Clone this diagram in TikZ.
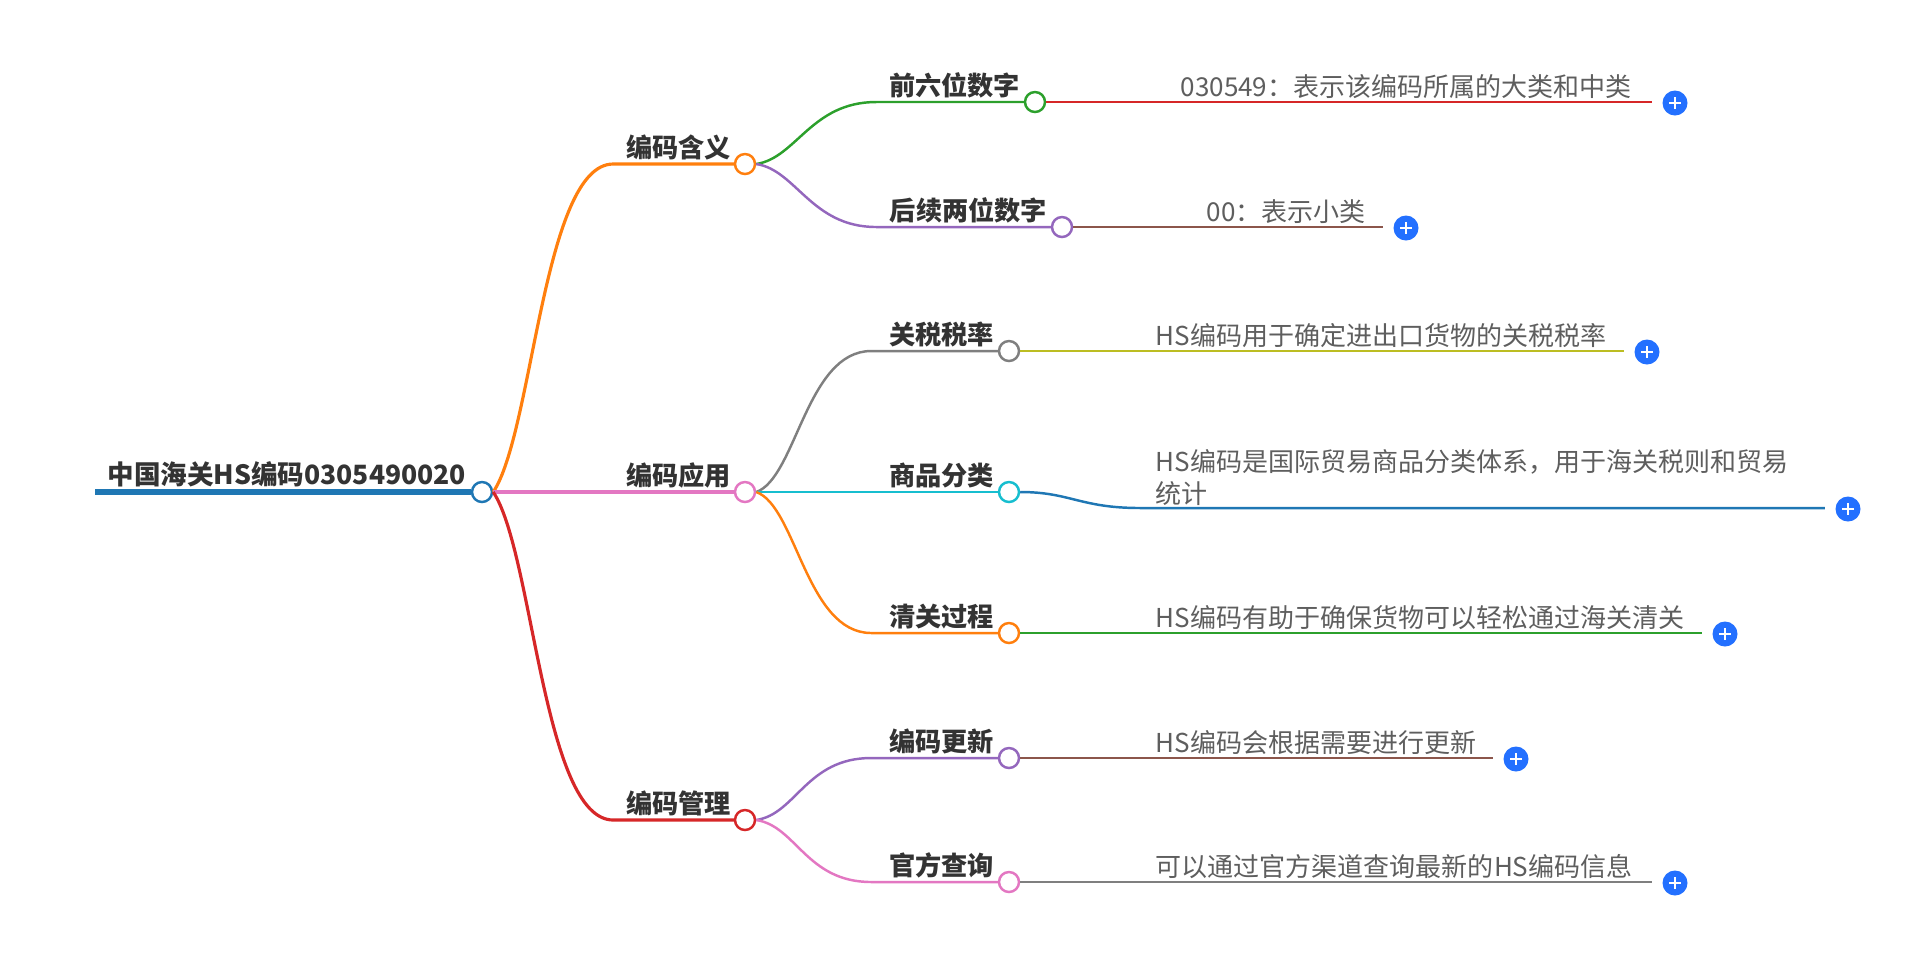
\documentclass[tikz,border=0pt]{standalone}
\usepackage{fontspec}
\setmainfont{Noto Sans CJK SC}
\usetikzlibrary{calc}
\definecolor{mapBlue}{HTML}{1F77B4}
\definecolor{mapOrange}{HTML}{FF7F0E}
\definecolor{mapGreen}{HTML}{2CA02C}
\definecolor{mapRed}{HTML}{D62728}
\definecolor{mapPurple}{HTML}{9467BD}
\definecolor{mapBrown}{HTML}{8C564B}
\definecolor{mapPink}{HTML}{E377C2}
\definecolor{mapGray}{HTML}{7F7F7F}
\definecolor{mapOlive}{HTML}{BCBD22}
\definecolor{mapCyan}{HTML}{17BECF}
\definecolor{plusBlue}{HTML}{2370FF}
\definecolor{labelText}{HTML}{333333}
\definecolor{leafText}{HTML}{5E5E5E}
\newcommand{\labelFont}{\bfseries\fontsize{7.45}{8.5}\selectfont}
\newcommand{\rootFont}{\bfseries\fontsize{7.55}{9}\selectfont}
\newcommand{\leafFont}{\fontsize{7.4}{9.1}\selectfont}

\begin{document}
\begin{tikzpicture}[x=0.01cm, y=-0.01cm,
  knob/.style={circle, draw=#1, fill=white, line width=0.7pt, minimum size=0.2cm, inner sep=0pt},
  topic/.style={anchor=base east, inner sep=0pt, text=labelText, font=\labelFont},
  leaf/.style={anchor=base west, inner sep=0pt, text=leafText, font=\leafFont},
  plusbtn/.style={circle, fill=plusBlue, minimum size=0.25cm, inner sep=0pt,
    path picture={\draw[white, line width=0.75pt]
      ($(path picture bounding box.center)+(-6,0)$) -- ++(12,0)
      ($(path picture bounding box.center)+(0,-6)$) -- ++(0,12);}},
  main/.style={line width=0.9pt},
  sub/.style={line width=0.7pt}]
  \useasboundingbox (0,0) rectangle (1920,953);

  % root
  \node[knob=mapBlue] (root) at (482,492) {};
  \node[topic, font=\rootFont] (rootText) at ($(root.west)+(-4,-8)$) {中国海关HS编码0305490020};
  \coordinate (rootTail) at (95,492);
  \draw[mapBlue, line width=1.7pt] (rootTail) -- (root.west);

  % first level
  \node[knob=mapOrange] (hanyi) at (745,164) {};
  \node[knob=mapPink] (yingyong) at (745,492) {};
  \node[knob=mapRed] (guanli) at (745,820) {};
  \node[topic] (hanyiText) at ($(hanyi.west)+(-2,-7)$) {编码含义};
  \node[topic] (yingyongText) at ($(yingyong.west)+(-2,-7)$) {编码应用};
  \node[topic] (guanliText) at ($(guanli.west)+(-2,-7)$) {编码管理};

  \draw[main, mapOrange] (root.east) .. controls +(40,-60) and +(-70,0) .. ($(root.east)+(120,-328)$) -- (hanyi.west);
  \draw[main, mapPink] (root.east) -- (yingyong.west);
  \draw[main, mapRed] (root.east) .. controls +(40,60) and +(-70,0) .. ($(root.east)+(120,328)$) -- (guanli.west);

  % second level
  \node[knob=mapGreen] (qianliu) at (1035,102) {};
  \node[knob=mapPurple] (houxu) at (1062,227) {};
  \node[knob=mapGray] (guanshui) at (1009,351) {};
  \node[knob=mapCyan] (shangpin) at (1009,492) {};
  \node[knob=mapOrange] (qingguan) at (1009,633) {};
  \node[knob=mapPurple] (gengxin) at (1009,758) {};
  \node[knob=mapPink] (chaxun) at (1009,882) {};
  \node[topic] (qianliuText) at ($(qianliu.west)+(-3,-7)$) {前六位数字};
  \node[topic] (houxuText) at ($(houxu.west)+(-3,-7)$) {后续两位数字};
  \node[topic] (guanshuiText) at ($(guanshui.west)+(-3,-7)$) {关税税率};
  \node[topic] (shangpinText) at ($(shangpin.west)+(-3,-7)$) {商品分类};
  \node[topic] (qingguanText) at ($(qingguan.west)+(-3,-7)$) {清关过程};
  \node[topic] (gengxinText) at ($(gengxin.west)+(-3,-7)$) {编码更新};
  \node[topic] (chaxunText) at ($(chaxun.west)+(-3,-7)$) {官方查询};

  \draw[sub, mapGreen] (hanyi.east) .. controls +(40,-6) and +(-65,0) .. ($(hanyi.east)+(120,-62)$) -- (qianliu.west);
  \draw[sub, mapPurple] (hanyi.east) .. controls +(40,6) and +(-65,0) .. ($(hanyi.east)+(120,63)$) -- (houxu.west);
  \draw[sub, mapGray] (yingyong.east) .. controls +(40,-14) and +(-65,0) .. ($(yingyong.east)+(115,-141)$) -- (guanshui.west);
  \draw[sub, mapCyan] (yingyong.east) -- (shangpin.west);
  \draw[sub, mapOrange] (yingyong.east) .. controls +(40,14) and +(-65,0) .. ($(yingyong.east)+(115,141)$) -- (qingguan.west);
  \draw[sub, mapPurple] (guanli.east) .. controls +(40,-6) and +(-65,0) .. ($(guanli.east)+(115,-62)$) -- (gengxin.west);
  \draw[sub, mapPink] (guanli.east) .. controls +(40,6) and +(-65,0) .. ($(guanli.east)+(115,62)$) -- (chaxun.west);

  % leaves
  \foreach \px/\py/\pn in {1675/103/plusA, 1406/228/plusB, 1647/352/plusC, 1848/509/plusD,
                           1725/634/plusE, 1516/759/plusF, 1675/883/plusG}
  {%
     \node[plusbtn] (\pn) at (\px,\py) {};
  }

  \node[leaf] (leafA) at (1180,96) {030549：表示该编码所属的大类和中类};
  \node[leaf] (leafB) at (1206,221) {00：表示小类};
  \node[leaf] (leafC) at (1155,345) {HS编码用于确定进出口货物的关税税率};
  \node[leaf, anchor=south west, align=left] (leafD) at (1155,506) {HS编码是国际贸易商品分类体系，用于海关税则和贸易\\统计};
  \node[leaf] (leafE) at (1155,627) {HS编码有助于确保货物可以轻松通过海关清关};
  \node[leaf] (leafF) at (1155,752) {HS编码会根据需要进行更新};
  \node[leaf] (leafG) at (1155,876) {可以通过官方渠道查询最新的HS编码信息};

  \draw[sub, mapRed] (qianliu.east) -- ($(plusA.west)+(-10,-1)$);
  \draw[sub, mapBrown] (houxu.east) -- ($(plusB.west)+(-10,-1)$);
  \draw[sub, mapOlive] (guanshui.east) -- ($(plusC.west)+(-10,-1)$);
  \draw[sub, mapBlue] (shangpin.east) .. controls +(50,0) and +(-60,0) .. (1140,508) -- ($(plusD.west)+(-10,-1)$);
  \draw[sub, mapGreen] (qingguan.east) -- ($(plusE.west)+(-10,-1)$);
  \draw[sub, mapBrown] (gengxin.east) -- ($(plusF.west)+(-10,-1)$);
  \draw[sub, mapGray] (chaxun.east) -- ($(plusG.west)+(-10,-1)$);
\end{tikzpicture}
\end{document}
